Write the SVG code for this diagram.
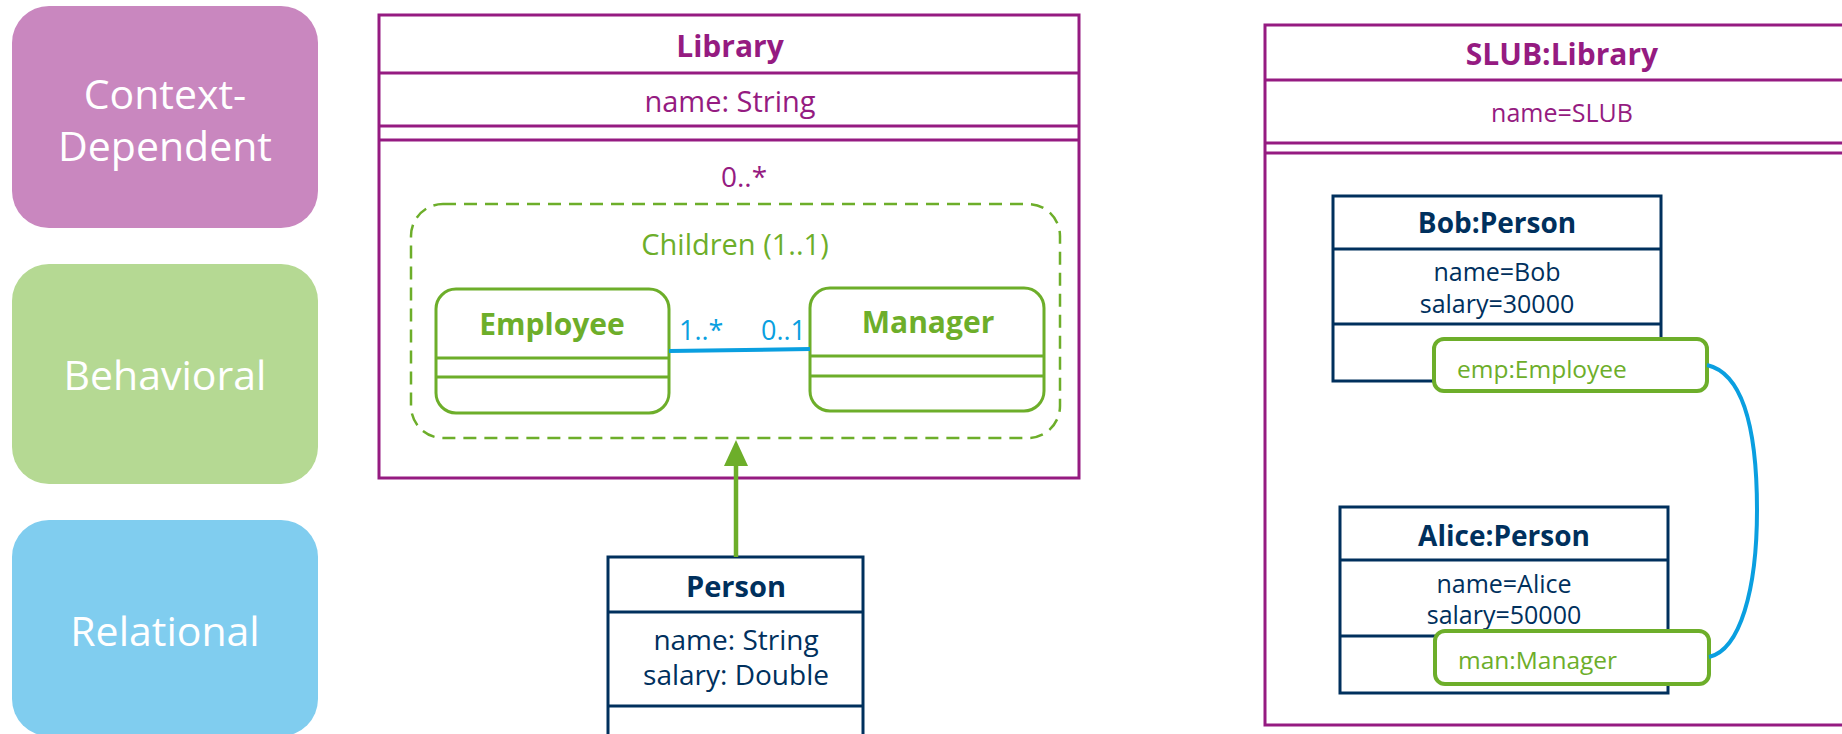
<svg xmlns="http://www.w3.org/2000/svg" width="1842" height="734" viewBox="0 0 1842 734">
  <style>
    text { font-family: "Open Sans", "Noto Sans", sans-serif; }
    .cat { fill: #ffffff; font-size: 41px; text-anchor: middle; }
    .pu { fill: #951B81; }
    .gr { fill: #6DAE2A; }
    .nv { fill: #00305D; }
    .bl { fill: #0A9FE0; }
    .b { font-weight: bold; }
    .mid { text-anchor: middle; }
    .boxP { fill: #ffffff; stroke: #951B81; stroke-width: 3; }
    .lineP { stroke: #951B81; stroke-width: 3; }
    .boxN { fill: #ffffff; stroke: #00305D; stroke-width: 3; }
    .lineN { stroke: #00305D; stroke-width: 3; }
    .boxG { fill: #ffffff; stroke: #6DAE2A; stroke-width: 3; }
    .lineG { stroke: #6DAE2A; stroke-width: 3; }
    .role { fill: #ffffff; stroke: #6DAE2A; stroke-width: 4; }
  </style>

  <!-- category tiles -->
  <g id="context-dependent">
    <rect x="12" y="6" width="306" height="222" rx="37" fill="#C987BF"/>
    <text class="cat" x="165" y="109">Context-</text>
    <text class="cat" x="165" y="161">Dependent</text>
  </g>
  <g id="behavioral">
    <rect x="12" y="264" width="306" height="220" rx="37" fill="#B5D993"/>
    <text class="cat" x="165" y="390">Behavioral</text>
  </g>
  <g id="relational">
    <rect x="12" y="520" width="306" height="216" rx="37" fill="#80CDEF"/>
    <text class="cat" x="165" y="646">Relational</text>
  </g>

  <!-- class model -->
  <g id="library">
    <rect class="boxP" x="379" y="15" width="700" height="463"/>
    <line class="lineP" x1="379" y1="73" x2="1079" y2="73"/>
    <line class="lineP" x1="379" y1="126" x2="1079" y2="126"/>
    <line class="lineP" x1="379" y1="140" x2="1079" y2="140"/>
    <text class="pu b mid" x="730" y="57" font-size="30">Library</text>
    <text class="pu mid" x="730" y="112" font-size="29">name: String</text>
    <text class="pu mid" x="744" y="187" font-size="28">0..*</text>
  </g>

  <g id="children">
    <rect x="411" y="204" width="649" height="234" rx="32" fill="none" stroke="#6DAE2A" stroke-width="2.5" stroke-dasharray="13 8"/>
    <text class="gr mid" x="735" y="255" font-size="29">Children (1..1)</text>
  </g>

  <g id="employee">
    <rect class="boxG" x="436" y="289" width="233" height="124" rx="20"/>
    <line class="lineG" x1="436" y1="358" x2="669" y2="358"/>
    <line class="lineG" x1="436" y1="377" x2="669" y2="377"/>
    <text class="gr b mid" x="552" y="335" font-size="30">Employee</text>
  </g>

  <g id="manager">
    <rect class="boxG" x="810" y="288" width="234" height="123" rx="20"/>
    <line class="lineG" x1="810" y1="356" x2="1044" y2="356"/>
    <line class="lineG" x1="810" y1="376" x2="1044" y2="376"/>
    <text class="gr b mid" x="928" y="333" font-size="30">Manager</text>
  </g>

  <g id="person">
    <rect class="boxN" x="608" y="557" width="255" height="190"/>
    <line class="lineN" x1="608" y1="612" x2="863" y2="612"/>
    <line class="lineN" x1="608" y1="706" x2="863" y2="706"/>
    <text class="nv b mid" x="736" y="597" font-size="29">Person</text>
    <text class="nv mid" x="736" y="650" font-size="28">name: String</text>
    <text class="nv mid" x="736" y="685" font-size="28">salary: Double</text>
  </g>

  <!-- object model -->
  <g id="slub">
    <rect class="boxP" x="1265" y="25" width="600" height="700"/>
    <line class="lineP" x1="1265" y1="80" x2="1865" y2="80"/>
    <line class="lineP" x1="1265" y1="143" x2="1865" y2="143"/>
    <line class="lineP" x1="1265" y1="153" x2="1865" y2="153"/>
    <text class="pu b mid" x="1562" y="65" font-size="30">SLUB:Library</text>
    <text class="pu mid" x="1562" y="122" font-size="25">name=SLUB</text>
  </g>

  <g id="bob">
    <rect class="boxN" x="1333" y="196" width="328" height="185"/>
    <line class="lineN" x1="1333" y1="249" x2="1661" y2="249"/>
    <line class="lineN" x1="1333" y1="324" x2="1661" y2="324"/>
    <text class="nv b mid" x="1497" y="233" font-size="28">Bob:Person</text>
    <text class="nv mid" x="1497" y="281" font-size="25">name=Bob</text>
    <text class="nv mid" x="1497" y="313" font-size="25">salary=30000</text>
  </g>

  <g id="emp">
    <rect class="role" x="1434" y="339" width="273" height="52" rx="10"/>
    <text class="gr" x="1457" y="378" font-size="24.5">emp:Employee</text>
  </g>

  <g id="alice">
    <rect class="boxN" x="1340" y="507" width="328" height="186"/>
    <line class="lineN" x1="1340" y1="560" x2="1668" y2="560"/>
    <line class="lineN" x1="1340" y1="636" x2="1668" y2="636"/>
    <text class="nv b mid" x="1504" y="546" font-size="28">Alice:Person</text>
    <text class="nv mid" x="1504" y="593" font-size="25">name=Alice</text>
    <text class="nv mid" x="1504" y="624" font-size="25">salary=50000</text>
  </g>

  <g id="man">
    <rect class="role" x="1435" y="631" width="274" height="53" rx="10"/>
    <text class="gr" x="1458" y="669" font-size="24.5">man:Manager</text>
  </g>

  <!-- connectors -->
  <g id="connectors">
    <line x1="669" y1="351" x2="810" y2="349" stroke="#0A9FE0" stroke-width="4"/>
    <text class="bl" x="679" y="340" font-size="27">1..*</text>
    <text class="bl" x="806" y="340" font-size="27" text-anchor="end">0..1</text>
    <line x1="736" y1="462" x2="736" y2="557" stroke="#6DAE2A" stroke-width="4.5"/>
    <polygon points="736,440 724,466 748,466" fill="#6DAE2A"/>
    <path d="M1707,365 C1750,375 1757,450 1757,510 C1757,590 1740,650 1709,657" fill="none" stroke="#0A9FE0" stroke-width="4"/>
  </g>
</svg>
